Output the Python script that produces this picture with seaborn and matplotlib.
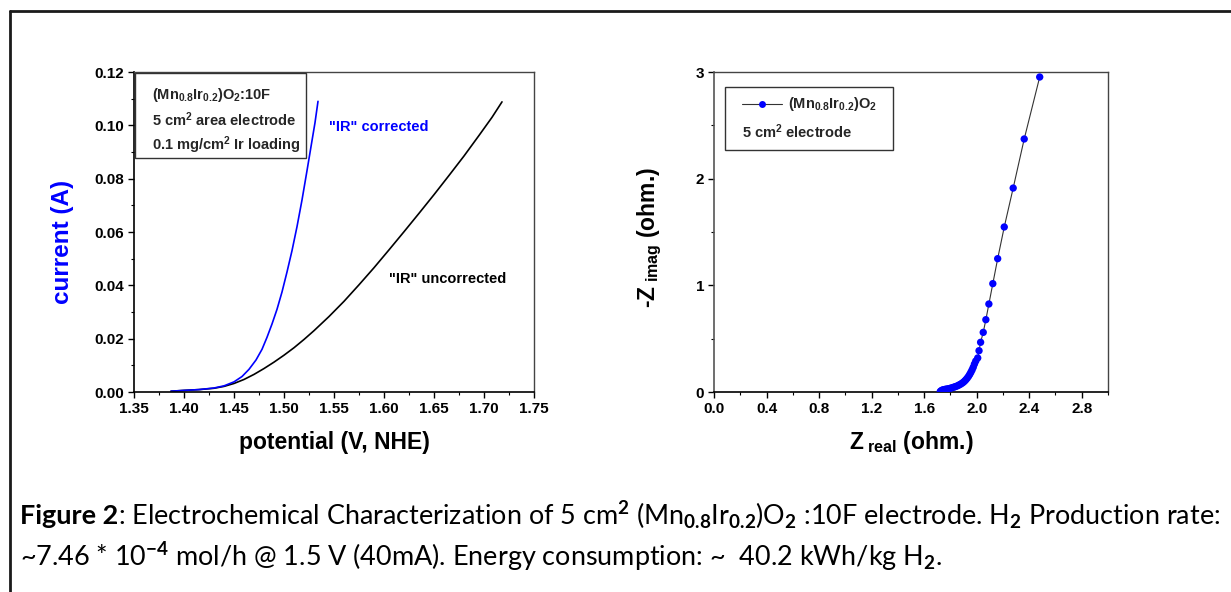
import numpy as np
import pandas as pd
import matplotlib
matplotlib.use("Agg")
import matplotlib.pyplot as plt
from matplotlib.lines import Line2D
from matplotlib.patches import Rectangle
from matplotlib.ticker import MultipleLocator, FormatStrFormatter
import seaborn as sns

# ---- polarization curves (potential in V vs NHE, current in A) ----
corrected_v = [1.387, 1.400, 1.415, 1.430, 1.440, 1.450, 1.458, 1.465, 1.472, 1.478,
               1.483, 1.488, 1.493, 1.498, 1.503, 1.508, 1.513, 1.518, 1.523, 1.527,
               1.531, 1.534]
corrected_i = [0.0003, 0.0006, 0.0009, 0.0015, 0.0023, 0.0038, 0.0058, 0.0085, 0.0120, 0.0160,
               0.0205, 0.0255, 0.0310, 0.0375, 0.0450, 0.0530, 0.0620, 0.0720, 0.0830, 0.0920,
               0.1010, 0.1090]

uncorrected_v = [1.387, 1.400, 1.415, 1.430, 1.440, 1.450, 1.460, 1.470, 1.480, 1.490,
                 1.500, 1.510, 1.520, 1.530, 1.545, 1.560, 1.575, 1.590, 1.605, 1.620,
                 1.635, 1.650, 1.665, 1.680, 1.695, 1.708, 1.718]
uncorrected_i = [0.0003, 0.0006, 0.0009, 0.0014, 0.0021, 0.0032, 0.0047, 0.0066, 0.0088, 0.0112,
                 0.0138, 0.0166, 0.0197, 0.0230, 0.0283, 0.0340, 0.0402, 0.0466, 0.0533, 0.0601,
                 0.0670, 0.0740, 0.0812, 0.0885, 0.0962, 0.1030, 0.1088]

# ---- impedance spectrum (Nyquist) ----
z_real = [1.723, 1.730, 1.738, 1.748, 1.760, 1.772, 1.785, 1.799, 1.812, 1.825,
          1.837, 1.850, 1.862, 1.874, 1.886, 1.897, 1.908, 1.918, 1.928, 1.938,
          1.947, 1.956, 1.965, 1.974, 1.983, 1.993, 2.008, 2.018, 2.030, 2.050,
          2.070, 2.093, 2.123, 2.160, 2.210, 2.278, 2.362, 2.480]
z_imag = [0.005, 0.012, 0.018, 0.022, 0.025, 0.028, 0.031, 0.035, 0.040, 0.045,
          0.050, 0.056, 0.063, 0.071, 0.080, 0.090, 0.102, 0.115, 0.130, 0.147,
          0.165, 0.185, 0.207, 0.232, 0.262, 0.290, 0.319, 0.387, 0.466, 0.559,
          0.678, 0.825, 1.016, 1.250, 1.547, 1.912, 2.372, 2.953]

left_xticks = [1.35, 1.40, 1.45, 1.50, 1.55, 1.60, 1.65, 1.70, 1.75]
left_yticks = [0.00, 0.02, 0.04, 0.06, 0.08, 0.10, 0.12]
right_xticks = [0.0, 0.4, 0.8, 1.2, 1.6, 2.0, 2.4, 2.8]
right_yticks = [0, 1, 2, 3]

sns.set_theme(style="white")
plt.rcParams["font.family"] = ["Liberation Sans", "DejaVu Sans"]
plt.rcParams["font.weight"] = "bold"
plt.rcParams["mathtext.fontset"] = "custom"
plt.rcParams["mathtext.bf"] = "Liberation Sans:bold"
plt.rcParams["mathtext.rm"] = "Lato"
plt.rcParams["mathtext.it"] = "Lato:italic"
plt.rcParams["mathtext.sf"] = "Lato"

W, H = 1231, 592
fig = plt.figure(figsize=(W / 100, H / 100), dpi=100)
fig.patch.set_facecolor("white")


def px_axes(x0, x1, ytop, ybot):
    return fig.add_axes([x0 / W, 1 - ybot / H, (x1 - x0) / W, (ybot - ytop) / H])


ax1 = px_axes(134, 534, 72, 392)
ax2 = px_axes(714, 1108, 72, 392)

df_c = pd.DataFrame({"potential": corrected_v, "current": corrected_i})
df_u = pd.DataFrame({"potential": uncorrected_v, "current": uncorrected_i})
df_z = pd.DataFrame({"zr": z_real, "zi": z_imag})

sns.lineplot(data=df_u, x="potential", y="current", ax=ax1, color="black", lw=1.2,
             estimator=None, sort=False)
sns.lineplot(data=df_c, x="potential", y="current", ax=ax1, color="#0000ff", lw=1.2,
             estimator=None, sort=False)

sns.lineplot(data=df_z, x="zr", y="zi", ax=ax2, color="#333333", lw=0.8,
             estimator=None, sort=False)
sns.scatterplot(data=df_z, x="zr", y="zi", ax=ax2, color="#0000ff", s=28,
                edgecolor="none", zorder=3)

tick_fs = 11
for ax in (ax1, ax2):
    ax.set_facecolor("white")
    for side in ("left", "bottom"):
        ax.spines[side].set_color("black")
        ax.spines[side].set_linewidth(1.2)
    for side in ("top", "right"):
        ax.spines[side].set_color("#444444")
        ax.spines[side].set_linewidth(1.0)
    ax.tick_params(which="both", direction="out", bottom=True, left=True,
                   top=False, right=False, colors="black", labelsize=tick_fs, pad=3)
    ax.tick_params(which="major", length=4, width=1)
    ax.tick_params(which="minor", length=2.5, width=0.8)
ax2.spines["left"].set_color("#555555")

ax1.set_xlim(1.35, 1.75)
ax1.set_ylim(0, 0.12)
ax1.set_xticks(left_xticks)
ax1.set_yticks(left_yticks)
ax1.xaxis.set_minor_locator(MultipleLocator(0.025))
ax1.yaxis.set_minor_locator(MultipleLocator(0.01))
ax1.xaxis.set_major_formatter(FormatStrFormatter("%.2f"))
ax1.yaxis.set_major_formatter(FormatStrFormatter("%.2f"))

ax2.set_xlim(0, 3.0)
ax2.set_ylim(0, 3)
ax2.set_xticks(right_xticks)
ax2.set_yticks(right_yticks)
ax2.xaxis.set_minor_locator(MultipleLocator(0.2))
ax2.yaxis.set_minor_locator(MultipleLocator(0.5))
ax2.xaxis.set_major_formatter(FormatStrFormatter("%.1f"))
ax2.yaxis.set_major_formatter(FormatStrFormatter("%d"))

for ax in (ax1, ax2):
    for lab in ax.get_xticklabels() + ax.get_yticklabels():
        lab.set_fontweight("bold")
        lab.set_fontsize(tick_fs)

# axis titles
lab_fs = 16.5
ax1.set_xlabel("potential (V, NHE)", fontsize=lab_fs, fontweight="bold", color="black")
ax1.xaxis.set_label_coords(0.5, -0.159)
ax1.xaxis.label.set_va("center")
ax1.set_ylabel("current (A)", fontsize=17.5, fontweight="bold", color="#0000ff")
ax1.yaxis.set_label_coords(-0.18, 0.47)
ax1.yaxis.label.set_va("center")

ax2.set_xlabel(r"Z$_{\ \mathbf{real}}$ (ohm.)", fontsize=lab_fs, fontweight="bold",
               color="black")
ax2.xaxis.set_label_coords(0.5, -0.159)
ax2.xaxis.label.set_va("center")
ax2.set_ylabel(r"-Z$_{\ \mathbf{imag}}$ (ohm.)", fontsize=lab_fs, fontweight="bold",
               color="black")
ax2.yaxis.set_label_coords(-0.162, 0.484)
ax2.yaxis.label.set_va("center")

# info box on the polarization panel
box_fs = 10.5
ax1.add_patch(Rectangle((0.0025, 0.731), 0.4275, 0.266, transform=ax1.transAxes,
                        facecolor="white", edgecolor="#333333", lw=1.0, zorder=4))
ax1.text(0.045, 0.928, r"(Mn$_{\mathbf{0.8}}$Ir$_{\mathbf{0.2}}$)O$_{\mathbf{2}}$:10F",
         transform=ax1.transAxes, fontsize=box_fs, fontweight="bold", va="center",
         ha="left", zorder=5)
ax1.text(0.045, 0.85, r"5 cm$^{\mathbf{2}}$ area electrode", transform=ax1.transAxes,
         fontsize=box_fs, fontweight="bold", va="center", ha="left", zorder=5)
ax1.text(0.045, 0.772, r"0.1 mg/cm$^{\mathbf{2}}$ Ir loading", transform=ax1.transAxes,
         fontsize=box_fs, fontweight="bold", va="center", ha="left", zorder=5)

ax1.text(0.4875, 0.828, '"IR" corrected', transform=ax1.transAxes, fontsize=box_fs,
         fontweight="bold", color="#0000ff", va="center", ha="left")
ax1.text(0.6375, 0.353, '"IR" uncorrected', transform=ax1.transAxes, fontsize=box_fs,
         fontweight="bold", color="black", va="center", ha="left")

# key box on the impedance panel
ax2.add_patch(Rectangle((0.028, 0.756), 0.426, 0.197, transform=ax2.transAxes,
                        facecolor="white", edgecolor="#333333", lw=1.0, zorder=4))
ax2.plot([0.071, 0.173], [0.9, 0.9], transform=ax2.transAxes, color="#333333",
         lw=0.8, zorder=5)
ax2.plot([0.122], [0.9], transform=ax2.transAxes, color="#0000ff", marker="o",
         markersize=5, markeredgewidth=0, zorder=6)
ax2.text(0.188, 0.9, r"(Mn$_{\mathbf{0.8}}$Ir$_{\mathbf{0.2}}$)O$_{\mathbf{2}}$",
         transform=ax2.transAxes, fontsize=box_fs, fontweight="bold", va="center",
         ha="left", zorder=6)
ax2.text(0.071, 0.8125, r"5 cm$^{\mathbf{2}}$ electrode", transform=ax2.transAxes,
         fontsize=box_fs, fontweight="bold", va="center", ha="left", zorder=6)

# page frame lines
fig.add_artist(Line2D([10 / W, 1.0], [1 - 11 / H, 1 - 11 / H], transform=fig.transFigure,
                      color="#1a1a1a", lw=2))
fig.add_artist(Line2D([10 / W, 10 / W], [0.0, 1 - 11 / H], transform=fig.transFigure,
                      color="#1a1a1a", lw=2))

# caption
cap_bold = "Figure 2"
cap_rest = (r": Electrochemical Characterization of 5 cm$^{\mathrm{2}}$ "
            r"(Mn$_{\mathrm{0.8}}$Ir$_{\mathrm{0.2}}$)O$_{\mathrm{2}}$ :10F electrode. "
            r"H$_{\mathrm{2}}$ Production rate:")
cap_line2 = (r"~7.46 * 10$^{\mathrm{-4}}$ mol/h @ 1.5 V (40mA). Energy consumption: ~  "
             r"40.2 kWh/kg H$_{\mathrm{2}}$.")

renderer = fig.canvas.get_renderer()
cap_fs = 18
x0 = 20 / W
y1 = 1 - 516 / H
y2 = 1 - 557 / H
t_b = fig.text(x0, y1, cap_bold, fontsize=cap_fs, fontweight="bold", family=["Lato", "DejaVu Sans"],
               va="center", ha="left", color="black")
bb = t_b.get_window_extent(renderer)
t_r = fig.text(bb.x1 / W, y1, cap_rest, fontsize=cap_fs, fontweight="normal",
               family=["Lato", "DejaVu Sans"], va="center", ha="left", color="black")
bb2 = t_r.get_window_extent(renderer)
total = bb2.x1 - bb.x0
scale = (1222 - 20) / total
cap_fs2 = cap_fs * scale
t_b.set_fontsize(cap_fs2)
bb = t_b.get_window_extent(renderer)
t_r.set_fontsize(cap_fs2)
t_r.set_x(bb.x1 / W)
fig.text(x0, y2, cap_line2, fontsize=cap_fs2, fontweight="normal",
         family=["Lato", "DejaVu Sans"], va="center", ha="left", color="black")

fig.savefig("out.png", dpi=100, facecolor="white")
